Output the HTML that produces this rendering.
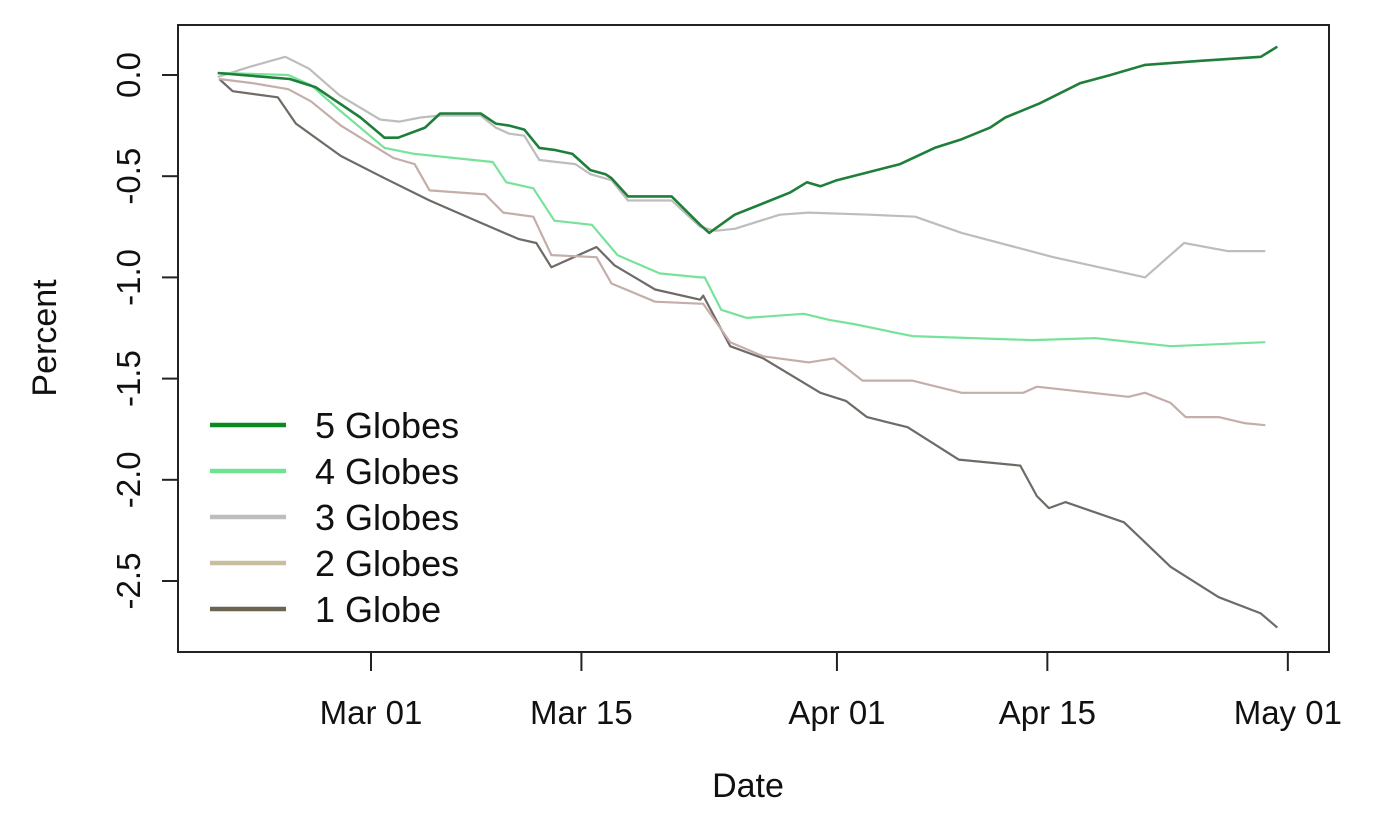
<!DOCTYPE html>
<html><head><meta charset="utf-8"><style>
html,body{margin:0;padding:0;background:#fff;}
svg text{font-family:"Liberation Sans",sans-serif;fill:#111;}
</style></head><body>
<svg id="chart" width="1377" height="808" viewBox="0 0 1377 808" xmlns="http://www.w3.org/2000/svg">
<rect x="178" y="25" width="1151" height="627" fill="#fff" stroke="#222" stroke-width="2"/>
<g id="axes"></g><g id="series"></g><g id="legend"></g>
<text x="748" y="797" font-size="34" text-anchor="middle">Date</text>
<text transform="translate(56,338) rotate(-90)" font-size="34" text-anchor="middle">Percent</text>
</svg>
<script>
// days relative to Mar 01
const xTickDays=[0,14,31,45,61];
const xTickLabels=["Mar 01","Mar 15","Apr 01","Apr 15","May 01"];
const yTicks=[0,-0.5,-1,-1.5,-2,-2.5];
const yTickLabels=["0.0","-0.5","-1.0","-1.5","-2.0","-2.5"];
const seriesNames=["5 Globes","4 Globes","3 Globes","2 Globes","1 Globe"];
const seriesColors=["#1f7f3a","#77e39a","#bdbdbd","#c4aeaa","#6e6a66"];
const legendColors=["#0a8a1e","#6fe38f","#bdbdbd","#c8bd9e","#6b6450"];
const days5=[-10.2,-5.4,-3.7,-0.7,0.9,1.8,3.6,4.6,5.9,7.3,8.3,9.2,10.2,11.2,12.2,13.4,14.6,15.6,16,17.1,18.6,20,21.9,22.5,24.2,25.9,27.9,29,29.9,31,35.2,37.5,39.2,41.2,42.2,44.5,47.2,49.2,51.5,55.2,57.2,59.2,60.3];
const vals5=[0.01,-0.02,-0.06,-0.21,-0.31,-0.31,-0.26,-0.19,-0.19,-0.19,-0.24,-0.25,-0.27,-0.36,-0.37,-0.39,-0.47,-0.49,-0.51,-0.6,-0.6,-0.6,-0.74,-0.78,-0.69,-0.64,-0.58,-0.53,-0.55,-0.52,-0.44,-0.36,-0.32,-0.26,-0.21,-0.14,-0.04,0.0,0.05,0.07,0.08,0.09,0.14];
const days4=[-10.1,-5.5,-4.0,-2.0,0.9,2.9,8.1,9.0,10.8,12.2,14.7,16.4,19.2,21.9,22.2,23.3,25.0,28.8,30.5,32.1,36.0,44.0,48.2,53.2,59.5];
const vals4=[0.01,0.0,-0.05,-0.18,-0.36,-0.39,-0.43,-0.53,-0.56,-0.72,-0.74,-0.89,-0.98,-1.0,-1.0,-1.16,-1.2,-1.18,-1.21,-1.23,-1.29,-1.31,-1.3,-1.34,-1.32];
const days3=[-10.2,-8.1,-5.7,-4.1,-2.1,0.6,1.9,3.3,4.6,7.3,8.3,9.2,10.2,11.2,13.6,14.6,16,17.1,20,21.9,22.9,24.2,27.2,29.1,33.2,36.2,39.3,45.4,51.5,54.1,57.0,59.5];
const vals3=[-0.01,0.04,0.09,0.03,-0.1,-0.22,-0.23,-0.21,-0.2,-0.2,-0.26,-0.29,-0.3,-0.42,-0.44,-0.49,-0.52,-0.62,-0.62,-0.75,-0.77,-0.76,-0.69,-0.68,-0.69,-0.70,-0.78,-0.90,-1.0,-0.83,-0.87,-0.87];
const days2=[-10.1,-7.9,-5.5,-4.0,-2.0,1.5,2.9,3.9,7.6,8.8,10.8,12.0,15.0,16.0,18.9,21.9,22.1,23.9,26.1,29.1,30.8,32.7,36.0,39.3,43.4,44.3,50.4,51.5,53.2,54.2,56.4,58.1,59.5];
const vals2=[-0.02,-0.04,-0.07,-0.13,-0.25,-0.41,-0.44,-0.57,-0.59,-0.68,-0.70,-0.89,-0.90,-1.03,-1.12,-1.13,-1.13,-1.32,-1.39,-1.42,-1.40,-1.51,-1.51,-1.57,-1.57,-1.54,-1.59,-1.57,-1.62,-1.69,-1.69,-1.72,-1.73];
const days1=[-10.1,-9.2,-6.2,-5.0,-2.0,0.9,3.9,7.3,9.8,11.0,12.0,15.0,16.2,18.9,21.9,22.1,23.9,26.1,29.9,31.6,33.0,35.7,39.1,43.2,44.3,45.1,46.2,50.1,53.2,56.4,59.2,60.3];
const vals1=[-0.02,-0.08,-0.11,-0.24,-0.40,-0.51,-0.62,-0.73,-0.81,-0.83,-0.95,-0.85,-0.94,-1.06,-1.11,-1.09,-1.34,-1.40,-1.57,-1.61,-1.69,-1.74,-1.90,-1.93,-2.08,-2.14,-2.11,-2.21,-2.43,-2.58,-2.66,-2.73];
const allDays=[days5,days4,days3,days2,days1];
const allVals=[vals5,vals4,vals3,vals2,vals1];

const NS="http://www.w3.org/2000/svg";
function xS(d){return 371+d*15.03;}
function yS(v){return 75-v*202.4;}
function mk(tag,attrs,parent){const e=document.createElementNS(NS,tag);for(const k in attrs)e.setAttribute(k,attrs[k]);parent.appendChild(e);return e;}
const axes=document.getElementById('axes');
xTickDays.forEach((d,i)=>{
  const t=mk('line',{x1:xS(d),x2:xS(d),y1:652,y2:671,stroke:'#222','stroke-width':2},axes);
  
  
  const l=mk('text',{x:xS(d),y:724,'font-size':33,'text-anchor':'middle'},axes);
  l.textContent=xTickLabels[i];
  
  
});
yTicks.forEach((v,i)=>{
  const t=mk('line',{x1:162,x2:178,y1:yS(v),y2:yS(v),stroke:'#222','stroke-width':2},axes);
  
  
  const l=mk('text',{transform:`translate(140,${yS(v)}) rotate(-90)`,'font-size':33,'text-anchor':'middle'},axes);
  l.textContent=yTickLabels[i];
  
  
});
const sg=document.getElementById('series');
for(let s=4;s>=0;s--){
  const pts=allDays[s].map((d,i)=>xS(d).toFixed(1)+','+yS(allVals[s][i]).toFixed(1)).join(' ');
  const p=mk('polyline',{points:pts,fill:'none',stroke:seriesColors[s],'stroke-width':s===0?2.6:2.2,'stroke-linejoin':'round'},sg);
  
  
}
const lg=document.getElementById('legend');
seriesNames.forEach((n,i)=>{
  const y=425+i*46;
  const l=mk('line',{x1:210,x2:286,y1:y,y2:y,stroke:legendColors[i],'stroke-width':4.5},lg);
  
  
  const t=mk('text',{x:315,y:y+13,'font-size':36},lg);
  t.textContent=n;
  
  
});
</script>
</body></html>
